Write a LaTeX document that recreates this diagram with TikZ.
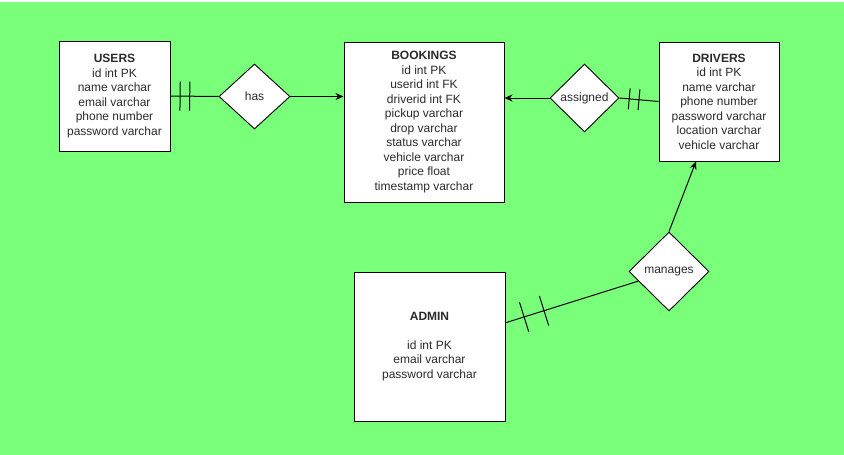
\documentclass[tikz,border=0pt]{standalone}
\usepackage{fontspec}
\setmainfont{Liberation Sans}
\usetikzlibrary{arrows.meta,shapes.geometric,calc}
\definecolor{erGreen}{HTML}{7AFF7A}
\definecolor{erInk}{HTML}{000000}
\definecolor{erText}{HTML}{2B2B2B}
\tikzset{
  erEdge/.style={draw=erInk,line width=1pt},
  erArrow/.style={erEdge,-{Stealth[length=8pt,width=7pt]}}
}
% mandatory-one crossbar at a coordinate, perpendicular to the connector
\newcommand{\erbar}[3]{\draw[erEdge] ($(#1)!#3!90:(#2)$) -- ($(#1)!#3!-90:(#2)$);}

\begin{document}
\begin{tikzpicture}[x=1pt,y=-1pt,
  entity/.style={draw=erInk, fill=white, line width=1pt, align=center,
    inner sep=0pt, text=erText, font=\fontsize{12}{14.5}\selectfont},
  relation/.style={diamond, draw=erInk, fill=white, line width=0.9pt,
    inner sep=0pt, text=erText, font=\fontsize{12}{14.5}\selectfont}
]
\useasboundingbox (0,0) rectangle (844,455);
\fill[erGreen] (0,1.5) rectangle (844,455);

\node[entity,minimum width=111pt,minimum height=110pt] (users) at (114.5,96)
  {\textbf{USERS}\\id int PK\\name varchar\\email varchar\\phone number\\password varchar};
\node[entity,minimum width=160pt,minimum height=160pt] (bookings) at (424,122)
  {\textbf{BOOKINGS}\\id int PK\\userid int FK\\driverid int FK\\pickup varchar\\drop varchar\\status varchar\\vehicle varchar\\price float\\timestamp varchar};
\node[entity,minimum width=120pt,minimum height=119pt] (drivers) at (719,101.5)
  {\textbf{DRIVERS}\\id int PK\\name varchar\\phone number\\password varchar\\location varchar\\vehicle varchar};
\node[entity,minimum width=151pt,minimum height=149pt] (admin) at (429.5,346.5)
  {\textbf{ADMIN}\\[14.5pt]id int PK\\email varchar\\password varchar};

\node[relation,minimum width=71pt,minimum height=65pt] (has) at (254.5,96.5) {has};
\node[relation,minimum width=69pt,minimum height=68pt] (assigned) at (584.5,98) {assigned};
\node[relation,minimum width=80pt,minimum height=79pt] (manages) at (669,271.5) {manages};

\draw[erEdge] (users.east) -- coordinate[pos=0.2] (u1) coordinate[pos=0.4] (u2) (has.west);
\erbar{u1}{has.west}{14.5pt}
\erbar{u2}{has.west}{14.5pt}
\draw[erArrow] (has.east) -- (has.east -| bookings.west);

\draw[erEdge] (drivers.west) -- coordinate[pos=0.5] (d1) coordinate[pos=0.75] (d2) (assigned.east);
\erbar{d1}{assigned.east}{10.5pt}
\erbar{d2}{assigned.east}{10.5pt}
\draw[erArrow] (assigned.west) -- (assigned.west -| bookings.east);

\draw[erEdge] (admin) -- coordinate[pos=0.14] (a1) coordinate[pos=0.29] (a2) (manages);
\erbar{a1}{manages}{15.5pt}
\erbar{a2}{manages}{15.5pt}
\draw[erArrow] (manages.north) -- (drivers.249);
\end{tikzpicture}
\end{document}
